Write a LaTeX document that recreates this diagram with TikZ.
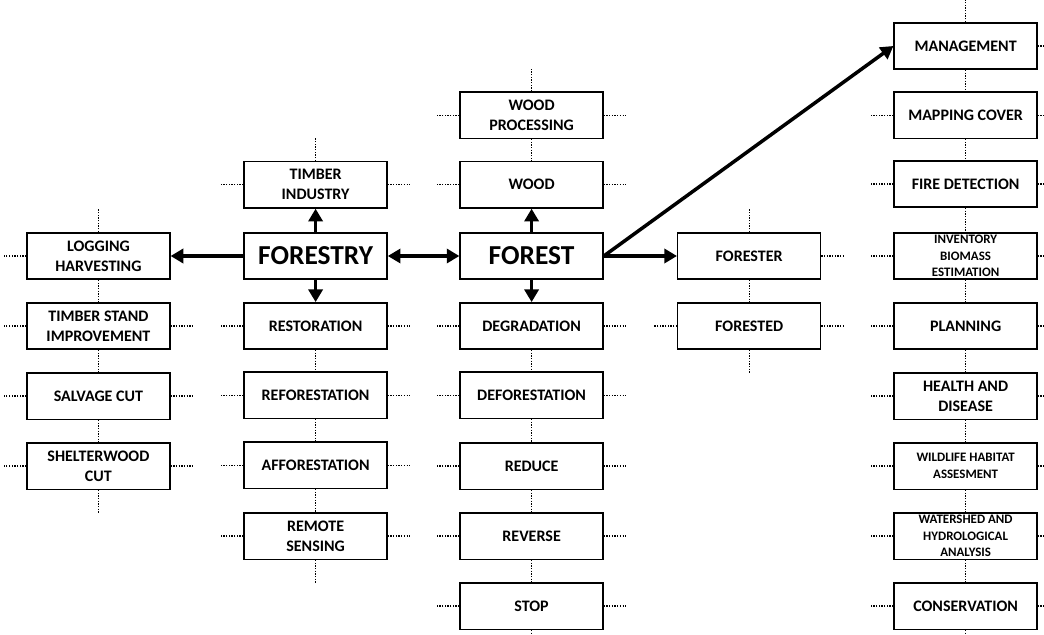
\documentclass[tikz,border=0pt]{standalone}
\usepackage{fontspec}
\setmainfont{Carlito}
\usetikzlibrary{arrows.meta}
\tikzset{
  box/.style={draw, line width=1pt, minimum width=3.575cm, minimum height=1.16cm,
    inner sep=0pt, align=center, font=\bfseries\fontsize{11.4}{14.2}\selectfont},
  bigbox/.style={box, font=\bfseries\fontsize{19.5}{21}\selectfont},
  smallbox/.style={box, font=\bfseries\fontsize{9.2}{11.6}\selectfont},
  dots/.style={densely dotted, line width=0.9pt},
  arr/.style={line width=2.5pt, -{Triangle[length=9pt,width=10pt]}},
  dblarr/.style={line width=2.5pt, {Triangle[length=9pt,width=10pt]}-{Triangle[length=9pt,width=10pt]}}
}

\begin{document}
\begin{tikzpicture}
  \useasboundingbox (0cm, 0cm) rectangle (26.1cm, -15.85cm);

  \node[box] (logg) at (2.46cm, -6.4cm) {LOGGING\\HARVESTING};
  \node[box] (tsi) at (2.46cm, -8.15cm) {TIMBER STAND\\IMPROVEMENT};
  \node[box] (salv) at (2.46cm, -9.9cm) {SALVAGE CUT};
  \node[box] (shel) at (2.46cm, -11.65cm) {SHELTERWOOD\\CUT};

  \node[box] (timb) at (7.89cm, -4.62cm) {TIMBER\\INDUSTRY};
  \node[bigbox] (forestry) at (7.89cm, -6.4cm) {FORESTRY};
  \node[box] (rest) at (7.89cm, -8.15cm) {RESTORATION};
  \node[box] (refo) at (7.89cm, -9.88cm) {REFORESTATION};
  \node[box] (affo) at (7.89cm, -11.63cm) {AFFORESTATION};
  \node[box] (remo) at (7.89cm, -13.4cm) {REMOTE\\SENSING};

  \node[box] (wproc) at (13.29cm, -2.88cm) {WOOD\\PROCESSING};
  \node[box] (wood) at (13.29cm, -4.62cm) {WOOD};
  \node[bigbox] (forest) at (13.29cm, -6.4cm) {FOREST};
  \node[box] (degr) at (13.29cm, -8.15cm) {DEGRADATION};
  \node[box] (defo) at (13.29cm, -9.88cm) {DEFORESTATION};
  \node[box] (redu) at (13.29cm, -11.65cm) {REDUCE};
  \node[box] (reve) at (13.29cm, -13.4cm) {REVERSE};
  \node[box] (stop) at (13.29cm, -15.15cm) {STOP};

  \node[box] (fster) at (18.73cm, -6.4cm) {FORESTER};
  \node[box] (fsted) at (18.73cm, -8.15cm) {FORESTED};

  \node[box] (mgmt) at (24.14cm, -1.15cm) {MANAGEMENT};
  \node[box] (mapc) at (24.14cm, -2.88cm) {MAPPING COVER};
  \node[box] (fire) at (24.14cm, -4.6cm) {FIRE DETECTION};
  \node[smallbox] (inve) at (24.14cm, -6.4cm) {INVENTORY\\BIOMASS\\ESTIMATION};
  \node[box] (plan) at (24.14cm, -8.15cm) {PLANNING};
  \node[box] (heal) at (24.14cm, -9.9cm) {HEALTH AND\\DISEASE};
  \node[smallbox] (wild) at (24.14cm, -11.65cm) {WILDLIFE HABITAT\\ASSESMENT};
  \node[smallbox] (wate) at (24.14cm, -13.4cm) {WATERSHED AND\\HYDROLOGICAL\\ANALYSIS};
  \node[box] (cons) at (24.14cm, -15.15cm) {CONSERVATION};

  \draw[dblarr] (forestry) -- (forest);
  \draw[arr] (forestry) -- (logg);
  \draw[arr] (forestry) -- (timb);
  \draw[arr] (forestry) -- (rest);
  \draw[arr] (forest) -- (wood);
  \draw[arr] (forest) -- (degr);
  \draw[arr] (forest) -- (fster);
  \draw[arr] (forest.east) -- (mgmt.west);

  \foreach \n in {logg,tsi,salv,shel,timb,rest,refo,affo,remo,wproc,wood,degr,defo,redu,reve,stop,fsted,mapc,fire,inve,plan,heal,wild,wate,cons}
    \draw[dots] (\n.west) -- ++(-0.58cm, 0);
  \foreach \n in {tsi,salv,shel,timb,rest,refo,affo,remo,wproc,wood,degr,defo,redu,reve,stop,fster,fsted}
    \draw[dots] (\n.east) -- ++(0.58cm, 0);
  \foreach \n in {mgmt,mapc,fire,inve,plan,heal,wild,wate,cons}
    \draw[dots] (\n.east) -- ++(0.3cm, 0);

  \foreach \a/\b in {logg/tsi,tsi/salv,salv/shel,rest/refo,refo/affo,affo/remo,wproc/wood,degr/defo,defo/redu,redu/reve,reve/stop,fster/fsted,mgmt/mapc,mapc/fire,fire/inve,inve/plan,plan/heal,heal/wild,wild/wate,wate/cons}
    \draw[dots] (\a.south) -- (\b.north);
  \foreach \n in {logg,timb,wproc,fster,mgmt}
    \draw[dots] (\n.north) -- ++(0, 0.58cm);
  \foreach \n in {shel,remo,fsted,stop,cons}
    \draw[dots] (\n.south) -- ++(0, -0.58cm);
\end{tikzpicture}
\end{document}
